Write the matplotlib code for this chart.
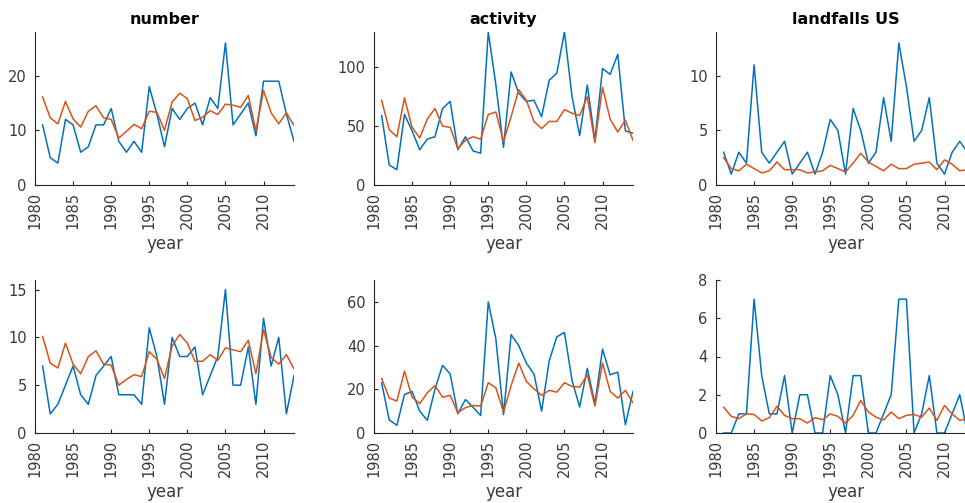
import numpy as np
import matplotlib
matplotlib.use("Agg")
import matplotlib.pyplot as plt

years = np.arange(1981, 2015)

# top row: observed (blue) vs model (orange)
number_obs = [11, 5, 4, 12, 11, 6, 7, 11, 11, 14, 8, 6, 8, 6, 18, 13, 7, 14, 12, 14,
              15, 11, 16, 14, 26, 11, 13, 15, 9, 19, 19, 19, 13, 8]
number_mod = [16.1, 12.3, 11.2, 15.3, 12.1, 10.6, 13.5, 14.5, 12.3, 12.0, 8.6, 9.8, 11.1, 10.3, 13.5, 13.3, 10.0, 15.2, 16.8, 15.8,
              11.8, 12.4, 13.6, 12.9, 14.8, 14.6, 14.2, 16.4, 9.9, 17.3, 13.2, 11.2, 13.2, 10.9]
activity_obs = [59, 17, 13, 60, 46, 30, 39, 41, 65, 71, 30, 41, 29, 27, 130, 85, 32, 96, 78, 71,
                72, 58, 89, 95, 130, 75, 42, 85, 38, 99, 94, 111, 46, 44]
activity_mod = [72, 47, 41, 74, 49, 40, 56, 65, 50, 49, 31, 38, 41, 39, 60, 62, 37, 58, 81, 72,
                54, 48, 54, 54, 64, 61, 59, 75, 36, 83, 56, 45, 55, 38]
landfalls_obs = [3, 1, 3, 2, 11, 3, 2, 3, 4, 1, 2, 3, 1, 3, 6, 5, 1, 7, 5, 2,
                 3, 8, 4, 13, 9, 4, 5, 8, 2, 1, 3, 4, 3, 2]
landfalls_mod = [2.5, 1.5, 1.3, 1.9, 1.5, 1.1, 1.3, 2.1, 1.4, 1.4, 1.4, 1.1, 1.2, 1.3, 1.8, 1.5, 1.2, 2.0, 2.9, 2.1,
                 1.7, 1.3, 1.9, 1.5, 1.5, 1.9, 2.0, 2.1, 1.4, 2.3, 1.9, 1.3, 1.4, 1.5]

# bottom row
number2_obs = [7, 2, 3, 5, 7, 4, 3, 6, 7, 8, 4, 4, 4, 3, 11, 8, 3, 10, 8, 8,
               9, 4, 6, 8, 15, 5, 5, 9, 3, 12, 7, 10, 2, 6]
number2_mod = [10.1, 7.3, 6.8, 9.4, 7.2, 6.2, 8.0, 8.6, 7.2, 7.1, 5.0, 5.6, 6.1, 5.9, 8.5, 7.7, 5.7, 9.1, 10.3, 9.4,
               7.5, 7.5, 8.2, 7.6, 8.9, 8.7, 8.5, 9.7, 6.2, 10.8, 7.9, 7.2, 8.2, 6.7]
activity2_obs = [23, 6, 3.5, 17.6, 19, 10, 5.8, 20, 31, 27, 8.8, 15.3, 11.8, 8, 60, 43, 8.4, 45, 40, 32,
                 27, 10, 33, 44, 46, 24, 11.9, 29.6, 13.4, 38.4, 26.6, 27.8, 3.8, 19]
activity2_mod = [25, 16, 14.6, 28.3, 16.4, 13.4, 18.4, 21.7, 16.4, 17.2, 9.3, 11.6, 12.6, 12.3, 23, 20.7, 9.6, 21.7, 32, 23.6,
                 20.2, 17.2, 19.5, 18.7, 23, 21.3, 21, 26.6, 12.3, 32, 19, 16, 19.5, 13.8]
landfalls2_obs = [0, 0, 1, 1, 7, 3, 1, 1, 3, 0, 2, 2, 0, 0, 3, 2, 0, 3, 3, 0,
                  0, 1, 2, 7, 7, 0, 1, 3, 0, 0, 1, 2, 0, 1]
landfalls2_mod = [1.35, 0.87, 0.75, 1.0, 0.97, 0.63, 0.8, 1.4, 0.92, 0.75, 0.75, 0.52, 0.8, 0.7, 1.0, 0.87, 0.52, 0.92, 1.7, 1.1,
                  0.83, 0.68, 1.1, 0.75, 0.92, 0.97, 0.83, 1.3, 0.66, 1.44, 1.0, 0.66, 0.75, 0.8]

titles = ["number", "activity", "landfalls US"]
panels = [
    (number_obs, number_mod, 28, [0, 10, 20]),
    (activity_obs, activity_mod, 130, [0, 50, 100]),
    (landfalls_obs, landfalls_mod, 14, [0, 5, 10]),
    (number2_obs, number2_mod, 16, [0, 5, 10, 15]),
    (activity2_obs, activity2_mod, 70, [0, 20, 40, 60]),
    (landfalls2_obs, landfalls2_mod, 8, [0, 2, 4, 6, 8]),
]

blue = "#0072BD"
orange = "#D95319"
axcol = "#262626"
labcol = "#3a3a3a"

W, H = 965, 503
fig = plt.figure(figsize=(W / 100, H / 100), dpi=100)

lefts = [35, 374, 716]
bottoms = [185, 433]
aw, ah = 259, 153

for i, (obs, mod, ytop, yt) in enumerate(panels):
    r, c = divmod(i, 3)
    ax = fig.add_axes([lefts[c] / W, 1 - bottoms[r] / H, aw / W, ah / H])
    ax.plot(years, obs, color=blue, lw=1.1)
    ax.plot(years, mod, color=orange, lw=1.1)
    ax.set_xlim(1980, 2014)
    ax.set_ylim(0, ytop)
    ax.set_xticks(range(1980, 2015, 5))
    ax.set_yticks(yt)
    ax.tick_params(axis="x", labelrotation=90, pad=5)
    ax.tick_params(axis="y", pad=6)
    ax.tick_params(direction="in", length=3, width=0.8, colors=axcol,
                   labelsize=10.5, labelcolor=labcol)
    for s in ["top", "right"]:
        ax.spines[s].set_visible(False)
    for s in ["left", "bottom"]:
        ax.spines[s].set_color(axcol)
        ax.spines[s].set_linewidth(0.8)
    ax.set_xlabel("year", fontsize=12, color=labcol, labelpad=4)
    if r == 0:
        ax.set_title(titles[c], fontsize=11.5, fontweight="bold", pad=6)

fig.savefig("out.png", dpi=100)
